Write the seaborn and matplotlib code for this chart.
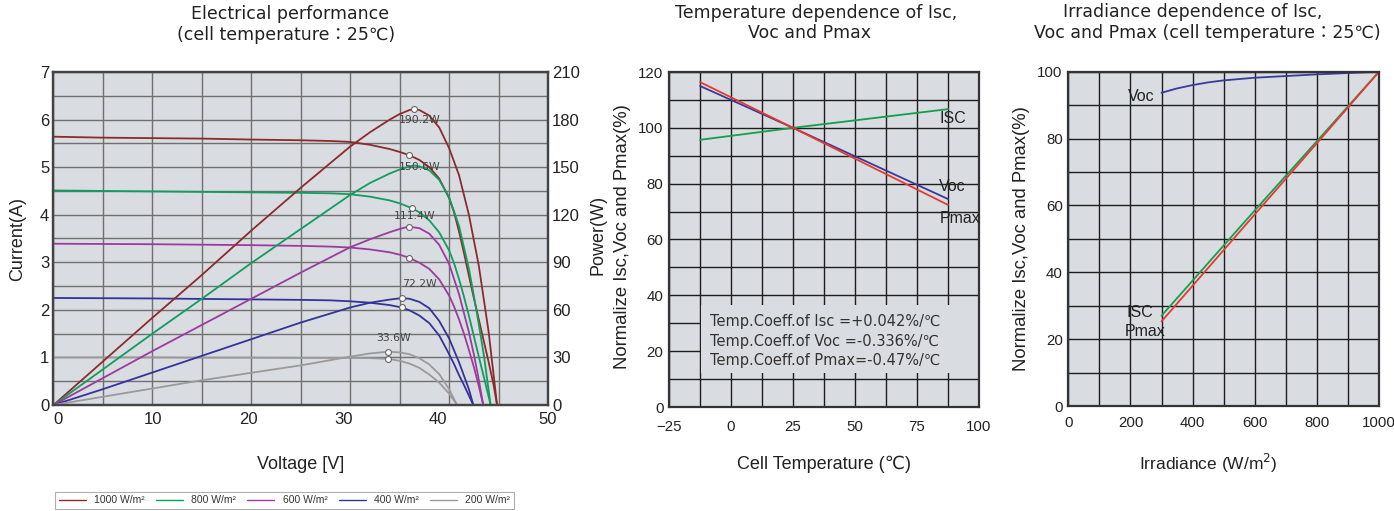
import numpy as np
import pandas as pd
import matplotlib
matplotlib.use('Agg')
import matplotlib.pyplot as plt
import matplotlib.transforms as mtrans
from matplotlib.lines import Line2D
from matplotlib.patches import Rectangle
from matplotlib.ticker import MultipleLocator
import seaborn as sns

# ---------------- data: electrical performance (I-V and P-V) ----------------
irr_labels = ["1000 W/m²", "800 W/m²", "600 W/m²", "400 W/m²", "200 W/m²"]

v_iv_1000 = [0, 5, 10, 15, 20, 25, 28, 30, 32, 34, 35, 36, 37, 38, 39, 40, 40.5, 41, 41.5, 42, 42.5, 43, 43.5, 44, 44.5, 44.85]
i_iv_1000 = [5.64, 5.62, 5.61, 5.60, 5.58, 5.565, 5.55, 5.53, 5.47, 5.38, 5.32, 5.25, 5.15, 5.0, 4.76, 4.35, 4.05, 3.65, 3.2, 2.72, 2.25, 1.8, 1.35, 0.9, 0.42, 0]
v_iv_800 = [0, 5, 10, 15, 20, 25, 28, 30, 32, 34, 35, 36.2, 37, 38, 39, 40, 40.5, 41, 41.5, 42, 42.5, 43, 43.5, 44.2]
i_iv_800 = [4.51, 4.50, 4.49, 4.48, 4.47, 4.46, 4.45, 4.43, 4.38, 4.30, 4.24, 4.14, 4.05, 3.88, 3.63, 3.25, 2.98, 2.65, 2.28, 1.88, 1.45, 1.02, 0.6, 0]
v_iv_600 = [0, 5, 10, 15, 20, 25, 28, 30, 32, 34, 35, 35.9, 37, 38, 39, 40, 40.5, 41, 41.5, 42, 42.5, 43, 43.45]
i_iv_600 = [3.39, 3.385, 3.38, 3.37, 3.36, 3.345, 3.33, 3.31, 3.27, 3.21, 3.16, 3.10, 2.99, 2.86, 2.64, 2.30, 2.07, 1.80, 1.50, 1.16, 0.8, 0.4, 0]
v_iv_400 = [0, 5, 10, 15, 20, 25, 28, 30, 32, 34, 35.2, 36, 37, 38, 39, 40, 40.5, 41, 41.5, 42, 42.45]
i_iv_400 = [2.25, 2.245, 2.24, 2.23, 2.22, 2.21, 2.20, 2.18, 2.15, 2.10, 2.05, 1.99, 1.88, 1.72, 1.46, 1.07, 0.86, 0.63, 0.42, 0.2, 0]
v_iv_200 = [0, 5, 10, 15, 20, 25, 30, 32, 33.8, 35, 36, 37, 38, 39, 40, 40.4, 40.8]
i_iv_200 = [1.0, 1.0, 1.0, 0.995, 0.995, 0.99, 0.99, 0.985, 0.97, 0.93, 0.87, 0.78, 0.64, 0.47, 0.24, 0.12, 0]

v_p_1000 = [0, 5, 10, 15, 20, 25, 30, 32, 34, 35, 36, 36.5, 37, 38, 39, 40, 41, 42, 43, 44, 44.85]
p_p_1000 = [0, 27.5, 55, 82, 110, 137, 163, 172, 180, 183.5, 186, 186.6, 186, 182.5, 175, 162, 145, 120, 88, 46, 0]
v_p_800 = [0, 5, 10, 15, 20, 25, 30, 32, 34, 35, 36, 36.5, 37, 38, 39, 40, 41, 42, 42.5, 43, 43.5, 44.2]
p_p_800 = [0, 22.5, 45, 67, 89.5, 111, 132.5, 140, 146, 148.5, 150.5, 151, 150.5, 148, 142, 131, 113, 86, 69, 51, 32, 0]
v_p_600 = [0, 5, 10, 15, 20, 25, 30, 32, 34, 35, 35.9, 37, 38, 39, 40, 41, 42, 42.5, 43, 43.45]
p_p_600 = [0, 17, 34, 50.5, 67, 83.5, 99.5, 104.5, 109, 111, 112.5, 111.5, 108, 101, 89, 70, 46, 32, 16, 0]
v_p_400 = [0, 5, 10, 15, 20, 25, 30, 32, 34, 35.2, 36, 37, 38, 39, 40, 41, 42, 42.45]
p_p_400 = [0, 10, 20.5, 31, 41.5, 52, 61.5, 64.5, 66.5, 67.4, 67, 65, 61, 53, 42, 27, 10, 0]
v_p_200 = [0, 5, 10, 15, 20, 25, 30, 32, 33.8, 35, 36, 37, 38, 39, 40, 40.8]
p_p_200 = [0, 5.2, 10.4, 15.6, 20.3, 25, 30.5, 32.5, 33.6, 33.2, 32, 29.5, 25.5, 19.5, 10, 0]

# max-power point markers
mpp_iv_v = [35.97, 36.2, 35.9, 35.2, 33.8]
mpp_iv_i = [5.25, 4.14, 3.10, 2.05, 0.97]
mpp_p_v = [36.5, 35.9, 35.2, 33.8]
mpp_p_w = [186.6, 112.5, 67.4, 33.6]
pmax_labels = ["190.2W", "150.6W", "111.4W", "72.2W", "33.6W"]
pmax_label_v = [37.06, 37.06, 36.55, 36.96, 34.37]
pmax_label_w = [180, 150, 119.4, 76.2, 42.1]

# ---------------- data: temperature dependence ----------------
temp_c = [-12.5, 25, 87.5]
temp_isc = [95.7, 100, 106.7]
temp_voc = [115.0, 100, 74.5]
temp_pmax = [116.4, 100, 72.4]
coeff_lines = ["Temp.Coeff.of Isc =+0.042%/℃",
               "Temp.Coeff.of Voc =-0.336%/℃",
               "Temp.Coeff.of Pmax=-0.47%/℃"]

# ---------------- data: irradiance dependence ----------------
irr_voc_x = [300, 350, 400, 450, 500, 600, 700, 800, 900, 1000]
irr_voc_y = [93.7, 95.0, 96.0, 96.8, 97.4, 98.2, 98.7, 99.2, 99.6, 100]
irr_lin_x = [300, 600, 800, 1000]
irr_isc_y = [27.0, 58.5, 79.2, 100]
irr_pmax_y = [25.3, 57.3, 78.6, 100]

# ---------------- style ----------------
sns.set_theme(style='white')
plt.rcParams['font.family'] = ['DejaVu Sans', 'Noto Sans CJK JP']
plt.rcParams['axes.unicode_minus'] = True

BG = '#d9dce1'
ARIAL = ['Liberation Sans', 'DejaVu Sans', 'Noto Sans CJK JP']
NARROW = ['Liberation Sans Narrow', 'Liberation Sans', 'DejaVu Sans']
TITLE = ['DejaVu Sans', 'Noto Sans CJK JP']
TXT = '#222222'

irr_colors = ['#8b2b2b', '#0f9e5e', '#9a3c9e', '#33339a', '#9a9a9a']
pal = dict(zip(irr_labels, irr_colors))
C_ISC, C_VOC, C_PMAX = '#12a04e', '#3a3a9a', '#e8392f'

W, H = 1394, 511
fig = plt.figure(figsize=(W / 100, H / 100), dpi=100)


def box(l, r, t, b):
    return [l / W, 1 - b / H, (r - l) / W, (b - t) / H]


def shift(lbl, dx, dy):
    lbl.set_transform(lbl.get_transform() + mtrans.ScaledTranslation(dx / 100, dy / 100, fig.dpi_scale_trans))


def style_axes(ax, gridc, spinec):
    ax.set_facecolor(BG)
    ax.set_axisbelow(True)
    ax.grid(True, which='both', color=gridc, lw=1.0)
    for s in ax.spines.values():
        s.set_visible(True)
        s.set_color(spinec)
        s.set_linewidth(1.6)


# ================= left: electrical performance =================
ax1 = fig.add_axes(box(53.5, 548, 72, 405))
style_axes(ax1, '#707070', '#444444')

iv_df = pd.concat([
    pd.DataFrame({'V': v, 'I': i, 'irr': lab})
    for v, i, lab in zip([v_iv_1000, v_iv_800, v_iv_600, v_iv_400, v_iv_200],
                         [i_iv_1000, i_iv_800, i_iv_600, i_iv_400, i_iv_200], irr_labels)
], ignore_index=True)
p_df = pd.concat([
    pd.DataFrame({'V': v, 'P': p, 'irr': lab})
    for v, p, lab in zip([v_p_1000, v_p_800, v_p_600, v_p_400, v_p_200],
                         [p_p_1000, p_p_800, p_p_600, p_p_400, p_p_200], irr_labels)
], ignore_index=True)

sns.lineplot(data=iv_df, x='V', y='I', hue='irr', palette=pal, estimator=None,
             sort=False, ax=ax1, legend=False, linewidth=1.3)
ax1.set_xlim(0, 50)
ax1.set_ylim(0, 7)
ax1.xaxis.set_major_locator(MultipleLocator(10))
ax1.xaxis.set_minor_locator(MultipleLocator(5))
ax1.yaxis.set_major_locator(MultipleLocator(1))
ax1.yaxis.set_minor_locator(MultipleLocator(0.5))
ax1.tick_params(which='both', length=0, labelsize=12, colors=TXT, pad=3)
ax1.tick_params(axis='x', pad=5)
for lbl in ax1.get_xticklabels() + ax1.get_yticklabels():
    lbl.set_fontfamily(NARROW)
x_label_offsets = [5.4, 5.0, 0.7, -3.2, -6.5, -11.5]
for lbl, dx in zip(ax1.get_xticklabels(), x_label_offsets):
    shift(lbl, dx, 0)
ax1.set_xlabel('Voltage [V]', fontsize=13, family=ARIAL, color=TXT)
ax1.set_ylabel('Current(A)', fontsize=13, family=ARIAL, color=TXT)
ax1.xaxis.set_label_coords(0.5, -0.152)
ax1.yaxis.set_label_coords(-0.056, 0.5)

ax1b = ax1.twinx()
sns.lineplot(data=p_df, x='V', y='P', hue='irr', palette=pal, estimator=None,
             sort=False, ax=ax1b, legend=False, linewidth=1.3)
ax1b.set_ylim(0, 210)
ax1b.set_xlim(0, 50)
ax1b.yaxis.set_major_locator(MultipleLocator(30))
ax1b.grid(False)
ax1b.tick_params(which='both', length=0, labelsize=12, colors=TXT, pad=3)
for lbl in ax1b.get_yticklabels():
    lbl.set_fontfamily(NARROW)
ax1b.set_ylabel('Power(W)', fontsize=13, family=ARIAL, color=TXT)
ax1b.yaxis.set_label_coords(1.083, 0.51)
for s in ax1b.spines.values():
    s.set_color('#444444')
    s.set_linewidth(1.6)

ax1.scatter(mpp_iv_v, mpp_iv_i, s=18, facecolor='white', edgecolor='#666666', lw=0.8, zorder=5)
ax1b.scatter(mpp_p_v, mpp_p_w, s=18, facecolor='white', edgecolor='#666666', lw=0.8, zorder=5)
for t, x, y in zip(pmax_labels, pmax_label_v, pmax_label_w):
    ax1b.text(x, y, t, ha='center', va='center', fontsize=7.8, color='#444444', family=TITLE, zorder=6)

handles = [Line2D([], [], color=c, lw=1.0) for c in irr_colors]
leg = fig.legend(handles, irr_labels, loc='lower left',
                 bbox_to_anchor=(55 / W, 1 - 509 / H, (514 - 55) / W, 17 / H),
                 mode='expand', ncol=5, frameon=True, fancybox=False,
                 edgecolor='#9a9a9a', handlelength=2.6, handletextpad=0.8,
                 borderpad=0.35, borderaxespad=0,
                 prop={'family': ARIAL, 'size': 7.5})
leg.get_frame().set_linewidth(0.8)
for t in leg.get_texts():
    t.set_color('#333333')

fig.text(290 / W, 1 - 14 / H, 'Electrical performance', ha='center', va='center',
         fontsize=12.5, family=TITLE, color=TXT)
fig.text(286 / W, 1 - 35 / H, '(cell temperature：25℃)', ha='center', va='center',
         fontsize=12.5, family=TITLE, color=TXT)

# ================= middle: temperature dependence =================
ax2 = fig.add_axes(box(669, 979, 72, 407))
style_axes(ax2, '#1e1e1e', '#333333')
temp_df = pd.DataFrame({'T': temp_c * 3,
                        'val': temp_isc + temp_voc + temp_pmax,
                        'ser': ['Isc'] * 3 + ['Voc'] * 3 + ['Pmax'] * 3})
sns.lineplot(data=temp_df, x='T', y='val', hue='ser',
             palette={'Isc': C_ISC, 'Voc': C_VOC, 'Pmax': C_PMAX},
             estimator=None, sort=False, ax=ax2, legend=False, linewidth=1.3)
ax2.set_xlim(-25, 100)
ax2.set_ylim(0, 120)
ax2.xaxis.set_major_locator(MultipleLocator(25))
ax2.xaxis.set_minor_locator(MultipleLocator(12.5))
ax2.yaxis.set_major_locator(MultipleLocator(20))
ax2.yaxis.set_minor_locator(MultipleLocator(10))
ax2.tick_params(which='both', length=0, labelsize=10.8, colors=TXT, pad=4)
ax2.tick_params(axis='x', pad=9)
for lbl in ax2.get_xticklabels() + ax2.get_yticklabels():
    lbl.set_fontfamily(ARIAL)
shift(ax2.get_yticklabels()[0], 0, 7)
ax2.add_patch(Rectangle((-12.1, 12.2), 112.1, 24.2, facecolor=BG, edgecolor='none', zorder=1.5))
for k, line in enumerate(coeff_lines):
    ax2.text(-8.5, 30.6 - k * 7.05, line, ha='left', va='center', fontsize=10.5,
             family=TITLE, color='#333333', zorder=3)
ax2.text(84, 103.5, 'ISC', ha='left', va='center', fontsize=11.5, family=NARROW, color=TXT)
ax2.text(84, 79.0, 'Voc', ha='left', va='center', fontsize=11.5, family=NARROW, color=TXT)
ax2.text(84, 67.6, 'Pmax', ha='left', va='center', fontsize=11.5, family=NARROW, color=TXT)
ax2.set_xlabel('Cell Temperature (℃)', fontsize=13, family=ARIAL, color=TXT)
ax2.set_ylabel('Normalize Isc,Voc and Pmax(%)', fontsize=13.3, family=ARIAL, color=TXT)
ax2.xaxis.set_label_coords(0.5, -0.145)
ax2.yaxis.set_label_coords(-0.121, 0.508)

fig.text(816 / W, 1 - 13 / H, 'Temperature dependence of Isc,', ha='center', va='center',
         fontsize=12.5, family=TITLE, color=TXT)
fig.text(809 / W, 1 - 33.5 / H, 'Voc and Pmax', ha='center', va='center',
         fontsize=12.5, family=TITLE, color=TXT)

# ================= right: irradiance dependence =================
ax3 = fig.add_axes(box(1068.3, 1379, 71.7, 406))
style_axes(ax3, '#1e1e1e', '#333333')
irr_df = pd.concat([
    pd.DataFrame({'G': irr_voc_x, 'val': irr_voc_y, 'ser': 'Voc'}),
    pd.DataFrame({'G': irr_lin_x, 'val': irr_isc_y, 'ser': 'Isc'}),
    pd.DataFrame({'G': irr_lin_x, 'val': irr_pmax_y, 'ser': 'Pmax'}),
], ignore_index=True)
sns.lineplot(data=irr_df, x='G', y='val', hue='ser',
             palette={'Isc': C_ISC, 'Voc': C_VOC, 'Pmax': C_PMAX},
             estimator=None, sort=False, ax=ax3, legend=False, linewidth=1.3)
ax3.set_xlim(0, 1000)
ax3.set_ylim(0, 100)
ax3.xaxis.set_major_locator(MultipleLocator(200))
ax3.xaxis.set_minor_locator(MultipleLocator(100))
ax3.yaxis.set_major_locator(MultipleLocator(20))
ax3.yaxis.set_minor_locator(MultipleLocator(10))
ax3.tick_params(axis='x', which='both', length=3, width=1.0, direction='out',
                labelsize=10.8, colors=TXT, pad=4)
ax3.tick_params(axis='x', which='both', color='#222222')
ax3.tick_params(axis='y', which='major', length=0, labelsize=10.8, colors=TXT, pad=4)
ax3.tick_params(axis='y', which='minor', length=3, width=1.0, color='#222222', direction='out')
for lbl in ax3.get_xticklabels() + ax3.get_yticklabels():
    lbl.set_fontfamily(ARIAL)
shift(ax3.get_yticklabels()[0], 0, 3)
shift(ax3.get_xticklabels()[0], 0, -2)
ax3.text(236, 92.7, 'Voc', ha='center', va='center', fontsize=11.5, family=NARROW, color=TXT)
ax3.text(231, 27.9, 'ISC', ha='center', va='center', fontsize=11.5, family=NARROW, color=TXT)
ax3.text(247, 22.2, 'Pmax', ha='center', va='center', fontsize=11.5, family=NARROW, color=TXT)
ax3.set_xlabel('Irradiance (W/m$^2$)', fontsize=12.5, family=ARIAL, color=TXT)
ax3.set_ylabel('Normalize Isc,Voc and Pmax(%)', fontsize=13.3, family=ARIAL, color=TXT)
ax3.xaxis.set_label_coords(0.45, -0.137)
ax3.yaxis.set_label_coords(-0.124, 0.5)

fig.text(1193 / W, 1 - 12 / H, 'Irradiance dependence of Isc,', ha='center', va='center',
         fontsize=12.5, family=TITLE, color=TXT)
fig.text(1207 / W, 1 - 33 / H, 'Voc and Pmax (cell temperature：25℃)', ha='center', va='center',
         fontsize=12.5, family=TITLE, color=TXT)

fig.savefig('out.png', dpi=100, facecolor='white')
